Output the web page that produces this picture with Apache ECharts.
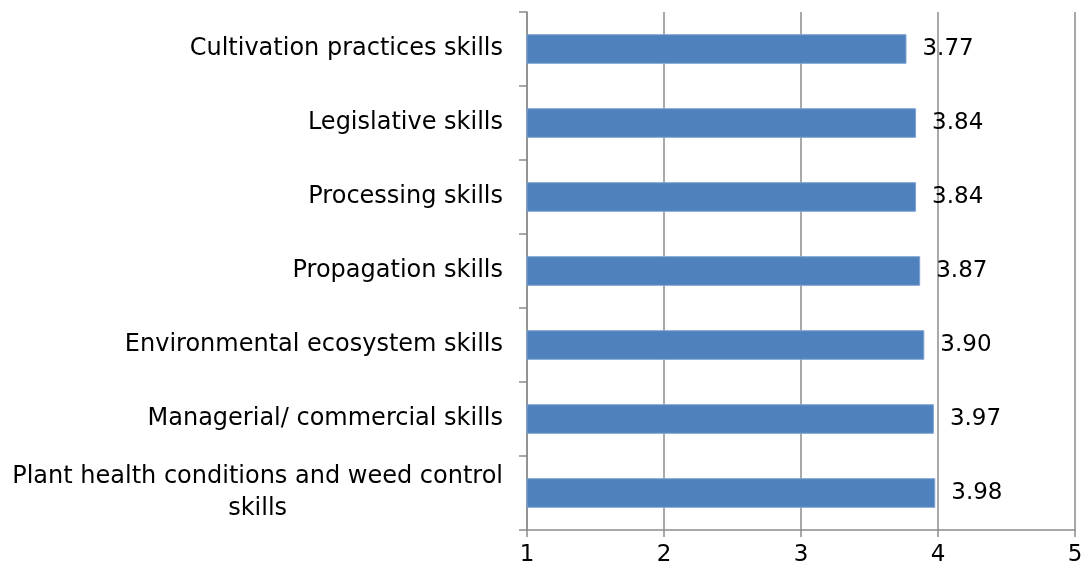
<!DOCTYPE html>
<html>
<head>
<meta charset="utf-8">
<script src="https://cdn.jsdelivr.net/npm/echarts@6/dist/echarts.min.js"></script>
<style>
  html, body { margin: 0; padding: 0; background: #fff; }
  #chart { width: 1086px; height: 576px; }
</style>
</head>
<body>
<div id="chart"></div>
<script>
// categories top to bottom
const skills = [
  'Cultivation practices skills',
  'Legislative skills',
  'Processing skills',
  'Propagation skills',
  'Environmental ecosystem skills',
  'Managerial/ commercial skills',
  'Plant health conditions and weed control\nskills'
]
const scores = [3.77, 3.84, 3.84, 3.87, 3.90, 3.97, 3.98]
const xTicks = [1, 2, 3, 4, 5]

const chart = echarts.init(document.getElementById('chart'))
const font = 'DejaVu Sans'

const option = {
  animation: false,
  grid: { left: 527, right: 11, top: 12, bottom: 46 },
  xAxis: {
    type: 'value',
    min: xTicks[0],
    max: xTicks[xTicks.length - 1],
    interval: 1,
    axisLine: { show: true, lineStyle: { color: '#8c8c8c', width: 1.5 } },
    axisTick: { show: true, length: 7, lineStyle: { color: '#8c8c8c', width: 1.5 } },
    splitLine: { show: true, lineStyle: { color: '#8c8c8c', width: 1.5 } },
    axisLabel: { color: '#000', fontFamily: font, fontSize: 23, margin: 14 }
  },
  yAxis: {
    type: 'category',
    inverse: true,
    data: skills,
    axisLine: { show: true, lineStyle: { color: '#8c8c8c', width: 1.5 } },
    axisTick: { show: true, length: 8, lineStyle: { color: '#8c8c8c', width: 1.5 } },
    axisLabel: {
      color: '#000',
      fontFamily: font,
      fontSize: 24,
      margin: 24,
      lineHeight: 32,
      formatter: v => v.split('\n').map(s => '{c|' + s + '}').join('\n'),
      rich: { c: { align: 'center', fontFamily: font, fontSize: 24, color: '#000', lineHeight: 32 } }
    }
  },
  series: [{
    type: 'bar',
    data: scores,
    barWidth: '40%',
    itemStyle: { color: '#4f81bd', borderColor: '#7ea3d3', borderWidth: 1 },
    label: {
      show: true,
      position: 'right',
      distance: 16,
      color: '#000',
      fontFamily: font,
      fontSize: 23,
      formatter: p => p.value.toFixed(2)
    }
  }]
}
chart.setOption(option)
</script>
</body>
</html>
